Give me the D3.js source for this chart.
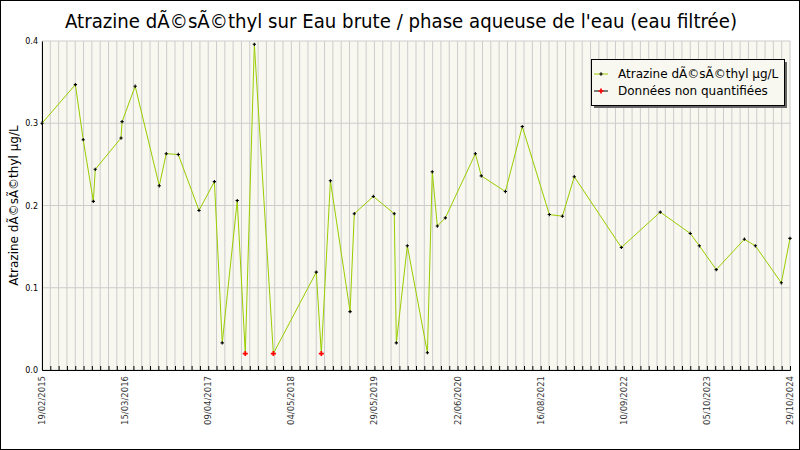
<!DOCTYPE html>
<html lang="fr">
<head>
<meta charset="UTF-8">
<script src="https://d3js.org/d3.v7.min.js"></script>
<style>
  body { margin: 0; background: #fff; }
  svg { display: block; font-family: "DejaVu Sans", sans-serif; }
</style>
</head>
<body>
<svg id="chart" width="800" height="450"></svg>
<script>
// Mesures (date, valeur en µg/L)
const dates = ["2015-02-19","2015-07-27","2015-09-02","2015-10-20","2015-10-29","2016-02-28","2016-03-04",
  "2016-05-05","2016-08-27","2016-09-29","2016-11-25","2017-03-03","2017-05-15","2017-06-21","2017-08-31",
  "2017-10-08","2017-11-20","2018-02-18","2018-09-09","2018-10-03","2018-11-15","2019-02-16","2019-03-08",
  "2019-06-06","2019-09-13","2019-09-23","2019-11-14","2020-02-17","2020-03-11","2020-04-04","2020-05-12",
  "2020-10-01","2020-10-29","2021-02-20","2021-05-11","2021-09-16","2021-11-17","2022-01-12","2022-08-23",
  "2023-02-23","2023-07-15","2023-08-27","2023-11-15","2024-03-27","2024-05-18","2024-09-18","2024-10-29"];
const values = [0.300,0.347,0.280,0.205,0.244,0.282,0.302,0.345,0.224,0.263,0.262,0.194,0.229,0.033,0.206,
  0.020,0.396,0.020,0.119,0.020,0.230,0.071,0.190,0.211,0.190,0.033,0.151,0.021,0.241,0.175,0.185,
  0.263,0.236,0.217,0.296,0.189,0.187,0.235,0.149,0.192,0.166,0.151,0.122,0.159,0.151,0.106,0.160];
// indices des données non quantifiées
const nonQuant = [15, 17, 19];
const tickLabels = ["19/02/2015","15/03/2016","09/04/2017","04/05/2018","29/05/2019",
  "22/06/2020","16/08/2021","10/09/2022","05/10/2023","29/10/2024"];
const yTicks = [0, 0.1, 0.2, 0.3, 0.4];

const svg = d3.select("#chart");
const m = { left: 42, right: 790, top: 41, bottom: 370 };
const parse = d3.timeParse("%Y-%m-%d");
const data = dates.map((d, i) => ({ date: parse(d), value: values[i], nq: nonQuant.includes(i) }));

const x = d3.scaleTime().domain(d3.extent(data, d => d.date)).range([m.left, m.right]);
const xl = d3.scalePoint().domain(tickLabels).range([m.left, m.right]);
const xg = d3.scaleLinear().domain([0, 90]).range([m.left, m.right]);
const y = d3.scaleLinear().domain([0, 0.4]).range([m.bottom, m.top]);

svg.append("rect").attr("x", 0.5).attr("y", 0.5).attr("width", 799).attr("height", 449)
  .attr("fill", "#fff").attr("stroke", "#000");

svg.append("text").attr("x", 401).attr("y", 28).attr("text-anchor", "middle")
  .attr("textLength", 672).attr("lengthAdjust", "spacingAndGlyphs")
  .style("font-size", "19px").text("Atrazine dÃ©sÃ©thyl sur Eau brute / phase aqueuse de l'eau (eau filtrée)");

svg.append("rect").attr("x", m.left).attr("y", m.top).attr("width", m.right - m.left)
  .attr("height", m.bottom - m.top).attr("fill", "#f8f8f0");

// grille
svg.append("g").selectAll("line").data(d3.range(0, 91)).join("line")
  .attr("x1", d => xg(d)).attr("x2", d => xg(d)).attr("y1", m.top).attr("y2", m.bottom)
  .attr("stroke", "#ccc").attr("stroke-width", 1);
svg.append("g").selectAll("line").data(yTicks).join("line")
  .attr("x1", m.left).attr("x2", m.right).attr("y1", d => y(d)).attr("y2", d => y(d))
  .attr("stroke", "#ccc");

// axes
const ya = svg.append("g").attr("transform", `translate(${m.left},0)`)
  .call(d3.axisLeft(y).tickValues(yTicks).tickFormat(d3.format(".1f")).tickSize(0).tickPadding(4));
ya.select(".domain").attr("stroke", "#000");
ya.selectAll("text").style("font-size", "8px").style("font-family", "DejaVu Sans");

svg.append("g").attr("transform", `translate(0,${m.bottom})`)
  .call(d3.axisBottom(xg).tickValues(d3.range(0, 91)).tickSize(-4).tickFormat(""))
  .selectAll("line").attr("stroke", "#000");

svg.append("g").selectAll("text").data(tickLabels).join("text")
  .attr("transform", d => `translate(${xl(d) + 3},${m.bottom + 6}) rotate(-90)`)
  .attr("text-anchor", "end").style("font-size", "8.5px").attr("fill", "#333").text(d => d);

svg.append("text").attr("transform", `translate(18,${(m.top + m.bottom) / 2}) rotate(-90)`)
  .attr("text-anchor", "middle").style("font-size", "12px").text("Atrazine dÃ©sÃ©thyl µg/L");

// courbe
svg.append("path").datum(data)
  .attr("d", d3.line().x(d => x(d.date)).y(d => y(d.value)))
  .attr("fill", "none").attr("stroke", "#99cc00").attr("stroke-width", 1);

const cross = d3.symbol().type(d3.symbolCross);
svg.append("g").selectAll("path").data(data).join("path")
  .attr("transform", d => `translate(${x(d.date)},${y(d.value)})`)
  .attr("d", d => cross.size(d.nq ? 14 : 6)())
  .attr("fill", d => d.nq ? "#ff0000" : "#000");

// légende
const lg = svg.append("g").attr("transform", "translate(591,59)");
lg.append("rect").attr("x", 3).attr("y", 3).attr("width", 193).attr("height", 46).attr("fill", "#666");
lg.append("rect").attr("x", 0.5).attr("y", 0.5).attr("width", 193).attr("height", 46)
  .attr("fill", "#f8f8f0").attr("stroke", "#000");
[["Atrazine dÃ©sÃ©thyl µg/L", "#99cc00", "#000", 6], ["Données non quantifiées", "#000", "#ff0000", 14]]
  .forEach((l, i) => {
    const yy = 15 + i * 17;
    lg.append("line").attr("x1", 3).attr("x2", 17).attr("y1", yy).attr("y2", yy).attr("stroke", l[1]);
    lg.append("path").attr("transform", `translate(10,${yy})`).attr("d", cross.size(l[3])()).attr("fill", l[2]);
    lg.append("text").attr("x", 27).attr("y", yy + 4).style("font-size", "12px").text(l[0]);
  });
</script>
</body>
</html>
